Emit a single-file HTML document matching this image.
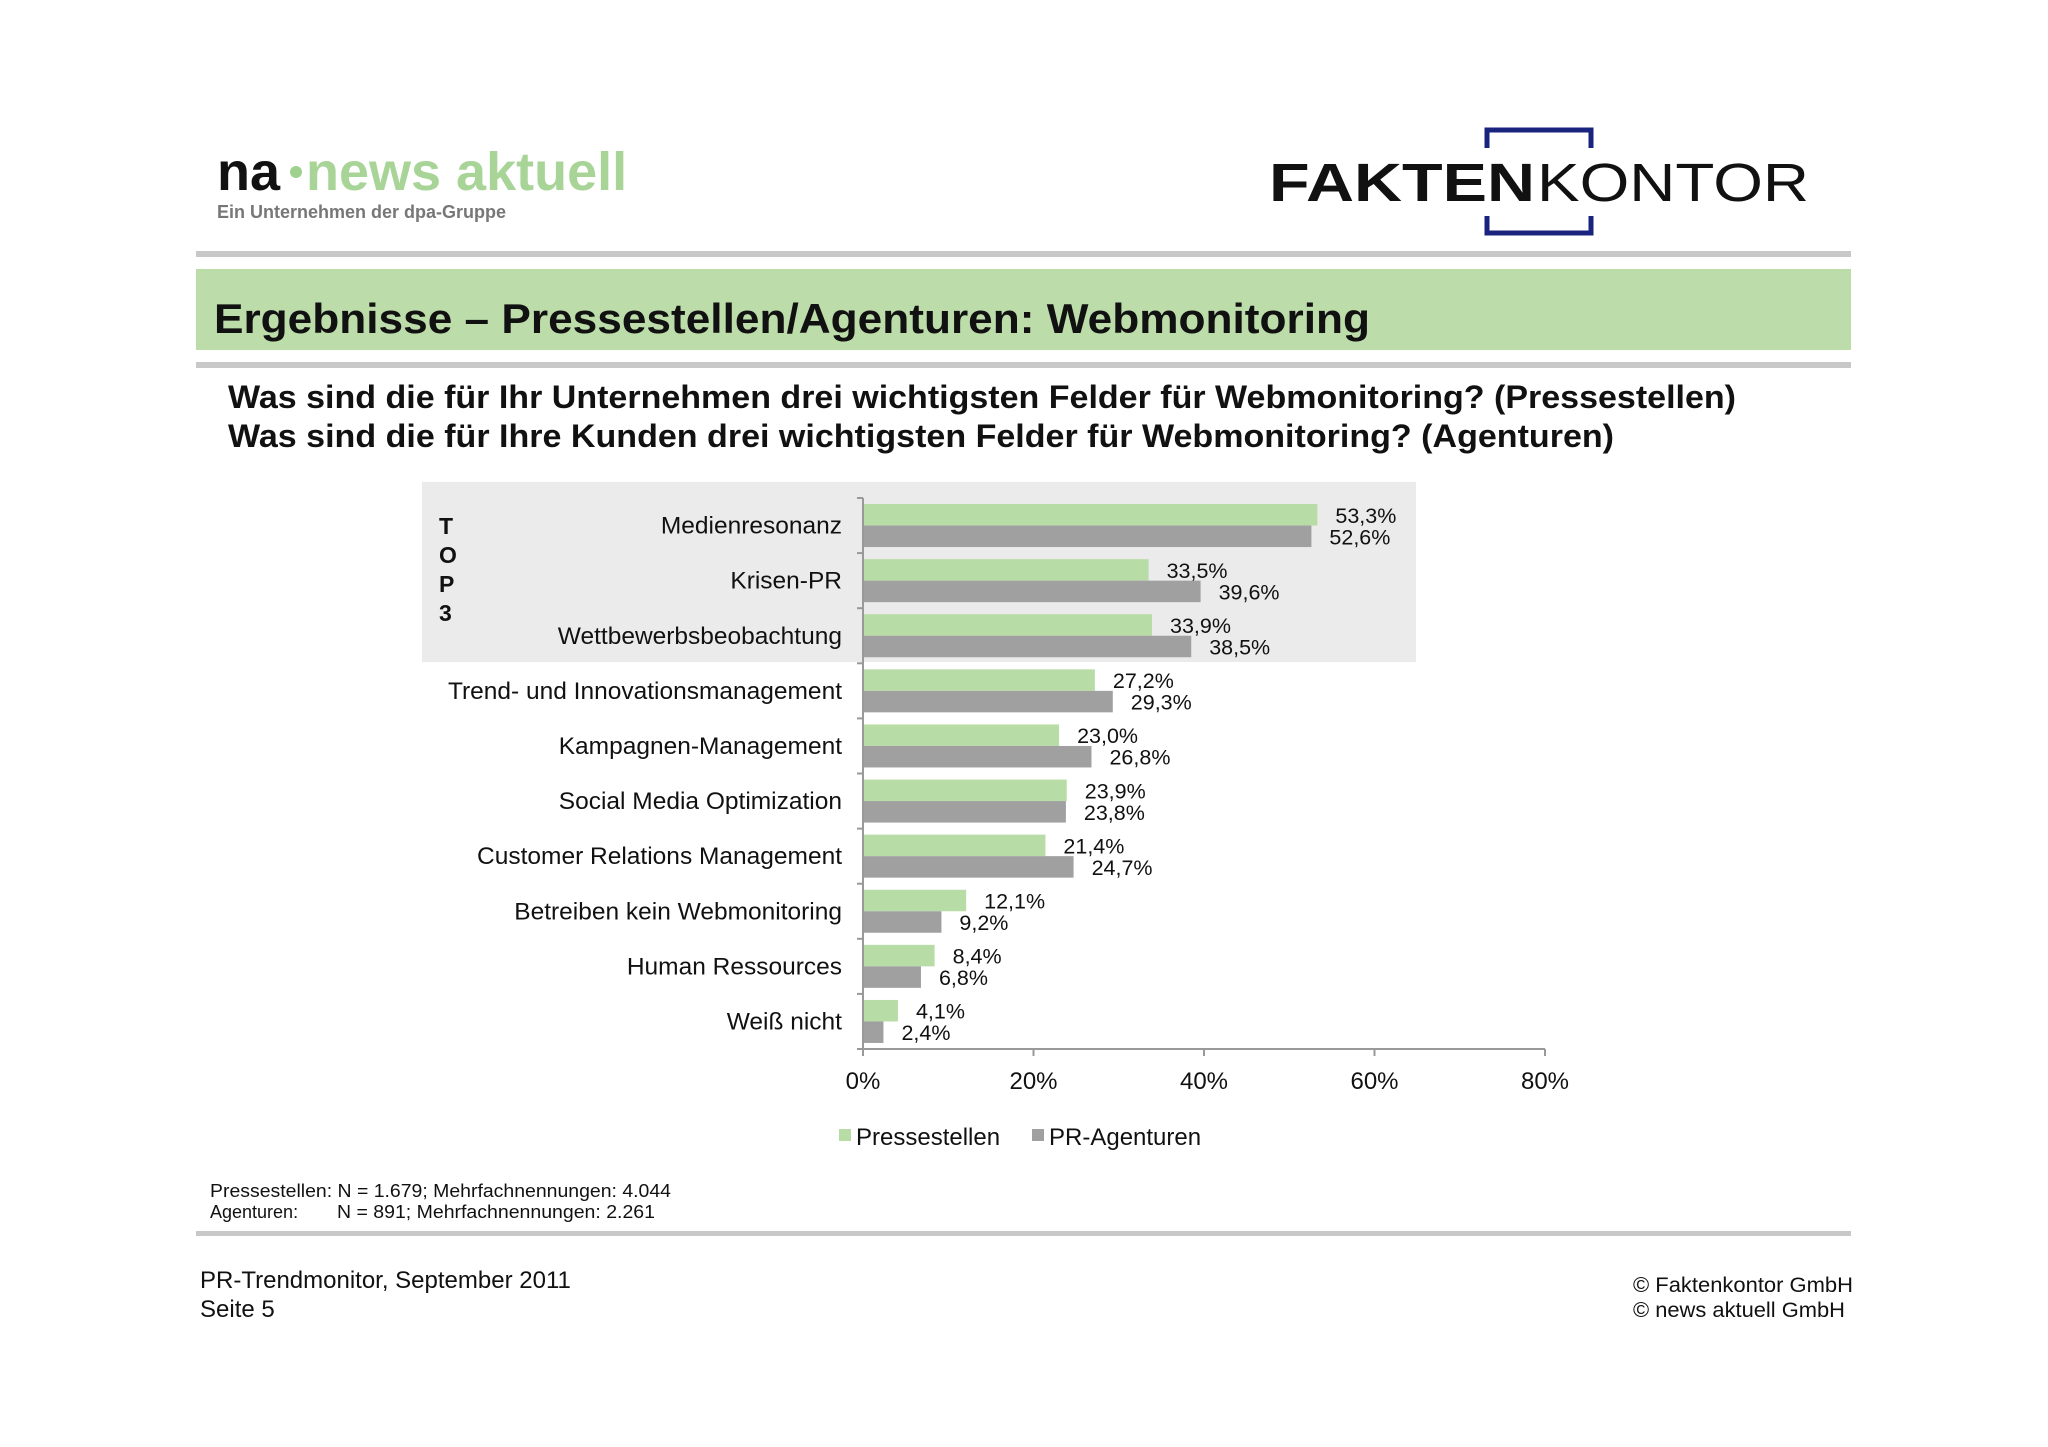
<!DOCTYPE html>
<html><head><meta charset="utf-8"><style>
html,body{margin:0;padding:0;background:#fff;}
svg{display:block;font-family:"Liberation Sans",Arial,sans-serif;}
</style></head><body>
<svg id="page" width="2048" height="1447" viewBox="0 0 2048 1447" xmlns="http://www.w3.org/2000/svg">
<g>
<text x="217" y="190" font-size="54" font-weight="bold" fill="#111">na</text>
<circle cx="296" cy="172" r="6" fill="#9fd08e"/>
<text x="306" y="190" font-size="54" font-weight="bold" fill="#a8d597">news aktuell</text>
<text x="217" y="218" font-size="18" font-weight="bold" fill="#777">Ein Unternehmen der dpa-Gruppe</text>
</g>
<g>
<path d="M1487 148 V130 H1591 V148 M1487 216 V233 H1591 V216" fill="none" stroke="#1a237e" stroke-width="5"/>
<text x="1269" y="201" font-size="54" font-weight="bold" fill="#111" textLength="266" lengthAdjust="spacingAndGlyphs">FAKTEN</text>
<text x="1537" y="201" font-size="54" fill="#111" textLength="272" lengthAdjust="spacingAndGlyphs">KONTOR</text>
</g>
<rect x="196" y="251" width="1655" height="6" fill="#c8c8c8"/>
<rect x="196" y="269" width="1655" height="81" fill="#bcdcaa"/>
<text x="214" y="333" font-size="42" font-weight="bold" fill="#111" textLength="1156" lengthAdjust="spacingAndGlyphs">Ergebnisse – Pressestellen/Agenturen:  Webmonitoring</text>
<rect x="196" y="362" width="1655" height="6" fill="#c8c8c8"/>
<text x="228" y="408" font-size="32" font-weight="bold" fill="#111" textLength="1508" lengthAdjust="spacingAndGlyphs">Was sind die für Ihr Unternehmen drei wichtigsten Felder für Webmonitoring? (Pressestellen)</text>
<text x="228" y="447" font-size="32" font-weight="bold" fill="#111" textLength="1386" lengthAdjust="spacingAndGlyphs">Was sind die für Ihre Kunden drei wichtigsten Felder für Webmonitoring? (Agenturen)</text>
<rect x="422" y="482" width="994" height="180" fill="#ebebeb"/>
<g font-size="23" font-weight="bold" fill="#111">
<text x="439" y="534">T</text><text x="439" y="563">O</text><text x="439" y="592">P</text><text x="439" y="621">3</text>
</g>
<g id="chart"></g>
<g>
<rect x="839" y="1129" width="12" height="12" fill="#b8dca6"/>
<text x="856" y="1145" font-size="24" fill="#111">Pressestellen</text>
<rect x="1032" y="1129" width="12" height="12" fill="#a0a0a0"/>
<text x="1049" y="1145" font-size="24" fill="#111">PR-Agenturen</text>
</g>
<g font-size="18" fill="#111">
<text x="210" y="1197" textLength="461" lengthAdjust="spacingAndGlyphs">Pressestellen: N = 1.679; Mehrfachnennungen: 4.044</text>
<text x="210" y="1218">Agenturen:</text><text x="337" y="1218" textLength="318" lengthAdjust="spacingAndGlyphs">N = 891; Mehrfachnennungen: 2.261</text>
</g>
<rect x="196" y="1231" width="1655" height="5" fill="#c8c8c8"/>
<g font-size="24" fill="#111">
<text x="200" y="1288">PR-Trendmonitor, September 2011</text>
<text x="200" y="1317">Seite 5</text>
</g>
<g font-size="21" fill="#111">
<text x="1633" y="1292" textLength="220" lengthAdjust="spacingAndGlyphs">© Faktenkontor GmbH</text>
<text x="1633" y="1317" textLength="212" lengthAdjust="spacingAndGlyphs">© news aktuell GmbH</text>
</g>
</svg>
<script>
const categories=["Medienresonanz","Krisen-PR","Wettbewerbsbeobachtung","Trend- und Innovationsmanagement","Kampagnen-Management","Social Media Optimization","Customer Relations Management","Betreiben kein Webmonitoring","Human Ressources","Weiß nicht"];
const pressestellen=[53.3,33.5,33.9,27.2,23.0,23.9,21.4,12.1,8.4,4.1];
const agenturen=[52.6,39.6,38.5,29.3,26.8,23.8,24.7,9.2,6.8,2.4];
const ticks=[0,20,40,60,80];
const NS="http://www.w3.org/2000/svg";
const g=document.getElementById('chart');
const X0=863,X1=1545,Y0=498,Y1=1049,MAX=80;
const xs=v=>X0+(v/MAX)*(X1-X0);
const band=(Y1-Y0)/categories.length;
const ys=i=>Y0+i*band;
const fmt=v=>v.toFixed(1).replace('.',',')+'%';
function mk(t,a){const e=document.createElementNS(NS,t);for(const k in a)e.setAttribute(k,a[k]);g.appendChild(e);return e;}
const bh=21.5,off=(band-2*bh)/2;
categories.forEach((c,i)=>{
 const y=ys(i);
 let r=mk('rect',{x:X0,y:y+off,width:xs(pressestellen[i])-X0,height:bh,fill:'#b8dca6'});
 
 
 r=mk('rect',{x:X0,y:y+off+bh,width:xs(agenturen[i])-X0,height:bh,fill:'#a0a0a0'});
 
 
 let t=mk('text',{x:xs(pressestellen[i])+18,y:y+off+bh/2+8,'font-size':21.5,fill:'#111'});t.textContent=fmt(pressestellen[i]);
 
 
 t=mk('text',{x:xs(agenturen[i])+18,y:y+off+bh*1.5+8,'font-size':21.5,fill:'#111'});t.textContent=fmt(agenturen[i]);
 
 
 t=mk('text',{x:842,y:y+band/2+8,'font-size':24.5,fill:'#111','text-anchor':'end'});t.textContent=c;
 
 
});
for(let i=0;i<=categories.length;i++){const l=mk('line',{x1:X0-6,x2:X0,y1:ys(i),y2:ys(i),stroke:'#999','stroke-width':2});
 
 }
let ax=mk('line',{x1:X0,x2:X0,y1:Y0,y2:Y1,stroke:'#999','stroke-width':2});


ax=mk('line',{x1:X0,x2:X1,y1:Y1,y2:Y1,stroke:'#999','stroke-width':2});


ticks.forEach(v=>{
 const l=mk('line',{x1:xs(v),x2:xs(v),y1:Y1,y2:Y1+7,stroke:'#999','stroke-width':2});
 
 
 const t=mk('text',{x:xs(v),y:1089,'font-size':24,fill:'#111','text-anchor':'middle'});t.textContent=v+'%';
 
 
});
</script>
</body></html>
